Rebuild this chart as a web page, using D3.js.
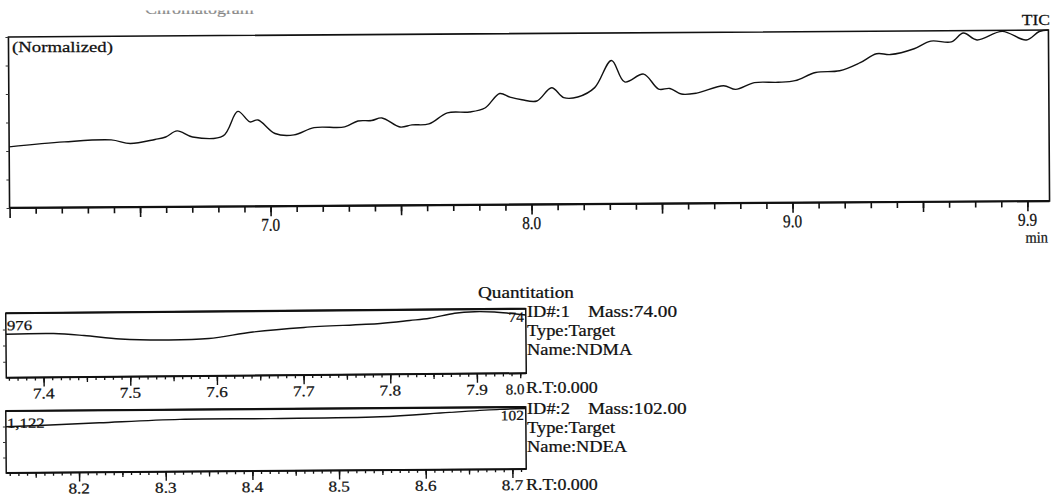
<!DOCTYPE html>
<html>
<head>
<meta charset="utf-8">
<script src="https://cdn.jsdelivr.net/npm/d3@7"></script>
<style>
  html, body { margin: 0; padding: 0; background: #fff; }
  svg { display: block; }
  text { font-family: "Liberation Serif", "DejaVu Serif", serif; fill: #111; stroke: #111; stroke-width: 0.25; }
</style>
</head>
<body>
<svg id="chart" width="1053" height="499"></svg>
<script>
// ---- data ----
const ticTime = [6.0, 6.211, 6.391, 6.464, 6.559, 6.6, 6.644, 6.703, 6.82, 6.877, 6.923, 6.954,
  7.019, 7.092, 7.169, 7.286, 7.337, 7.389, 7.429, 7.498, 7.544, 7.609, 7.68, 7.765, 7.824,
  7.881, 7.92, 7.966, 8.023, 8.08, 8.126, 8.18, 8.245, 8.31, 8.36, 8.433, 8.49, 8.533, 8.577,
  8.636, 8.739, 8.785, 8.857, 8.948, 9.013, 9.092, 9.184, 9.261, 9.326, 9.379, 9.47, 9.534,
  9.613, 9.659, 9.711, 9.808, 9.9, 9.95, 9.985];
const ticIntensity = [35.7, 38.4, 39.4, 37.2, 39.5, 40.9, 44.4, 40.8, 41.3, 55.6, 49.4, 50.5,
  42.5, 41.6, 45.8, 46.1, 49.5, 49.7, 51.2, 45.8, 47.0, 47.5, 53.9, 54.3, 56.6,
  65.0, 62.9, 61.3, 60.5, 68.2, 62.4, 62.7, 68.1, 83.9, 71.3, 75.8, 67.0, 67.3, 64.0,
  64.5, 68.7, 66.5, 70.4, 70.5, 71.4, 76.1, 77.0, 81.5, 86.8, 86.3, 89.6, 94.0,
  93.5, 98.6, 94.5, 99.4, 94.3, 99.2, 100];

const ndmaTime = [7.357, 7.412, 7.447, 7.489, 7.545, 7.591, 7.642, 7.701, 7.789, 7.823, 7.846,
  7.875, 7.898, 7.921, 7.938, 7.957];
const ndmaIntensity = [67.4, 67.9, 64.5, 58.6, 56.3, 58.1, 67.6, 74.0, 79.1, 83.3, 86.5,
  94.0, 96.1, 95.3, 93.2, 90.2];

const ndeaTime = [8.116, 8.167, 8.224, 8.317, 8.421, 8.548, 8.628, 8.686, 8.716];
const ndeaIntensity = [74.5, 76.8, 79.8, 84.4, 84.5, 86.0, 92.3, 96.5, 97.7];

const ticTickValues = [7.0, 8.0, 9.0, 9.9];
const ticTickLabels = ["7.0", "8.0", "9.0", "9.9"];
const ndmaTickValues = [7.4, 7.5, 7.6, 7.7, 7.8, 7.9];
const ndmaTickLabels = ["7.4", "7.5", "7.6", "7.7", "7.8", "7.9"];
const ndmaEndLabel = "8.0";
const ndeaTickValues = [8.2, 8.3, 8.4, 8.5, 8.6, 8.7];
const ndeaTickLabels = ["8.2", "8.3", "8.4", "8.5", "8.6", "8.7"];

const ndmaCorner = ["976", "74"];
const ndeaCorner = ["1,122", "102"];
const ndmaInfo = ["ID#:1", "Mass:74.00", "Type:Target", "Name:NDMA", "R.T:0.000"];
const ndeaInfo = ["ID#:2", "Mass:102.00", "Type:Target", "Name:NDEA", "R.T:0.000"];

// ---- layout ----
const ticBox = { left: 9, right: 1049, top: 33.5, bottom: 204.5, domain: [6.0, 9.985], tilt: -0.38 };
const panels = [
  { left: 6, right: 526, top: 311, bottom: 375.5, domain: [7.357, 7.957], tilt: -0.5 },
  { left: 6, right: 526, top: 409, bottom: 471, domain: [8.116, 8.716], tilt: -0.44 },
];

const svg = d3.select("#chart");

function addText(g, x, y, str, size, opts = {}) {
  const sx = opts.sx || 1;
  return g
    .append("text")
    .attr("transform", `translate(${x},${y}) scale(${sx},1)`)
    .attr("text-anchor", opts.anchor || "start")
    .attr("font-size", size)
    .text(str);
}

function drawTicks(g, scale, values, y, size, width) {
  g.append("g")
    .attr("transform", `translate(0,${y})`)
    .call(d3.axisBottom(scale).tickValues(values).tickSize(size).tickFormat(""))
    .call((a) => a.select(".domain").remove())
    .call((a) => a.selectAll("line").attr("stroke", "#111").attr("stroke-width", width));
}

function drawSideTicks(g, scale, values, x, size) {
  g.append("g")
    .attr("transform", `translate(${x},0)`)
    .call(d3.axisLeft(scale).tickValues(values).tickSize(size).tickFormat(""))
    .call((a) => a.select(".domain").remove())
    .call((a) => a.selectAll("line").attr("stroke", "#333").attr("stroke-width", 1));
}

function drawTrace(g, xs, ys, times, values, width) {
  const line = d3
    .line()
    .x((d) => xs(d[0]))
    .y((d) => ys(d[1]))
    .curve(d3.curveCatmullRom.alpha(0.5));
  g.append("path")
    .datum(d3.zip(times, values))
    .attr("d", line)
    .attr("fill", "none")
    .attr("stroke", "#111")
    .attr("stroke-width", width)
    .attr("stroke-linejoin", "round");
}

function drawBox(g, b, w) {
  g.append("rect")
    .attr("x", b.left)
    .attr("y", b.top)
    .attr("width", b.right - b.left)
    .attr("height", b.bottom - b.top)
    .attr("fill", "none")
    .attr("stroke", "#111")
    .attr("stroke-width", w);
}

// ---- faded title, cut off by the scan edge ----
svg.append("clipPath").attr("id", "titleClip")
  .append("rect").attr("x", 0).attr("y", 10.5).attr("width", 400).attr("height", 12);
addText(svg.append("g").attr("clip-path", "url(#titleClip)").attr("opacity", 0.5),
  145, 14, "Chromatogram", 15, { sx: 1.2 });

// ---- TIC chart ----
const gTop = svg.append("g").attr("transform", `rotate(${ticBox.tilt},530,120)`);
const xTop = d3.scaleLinear().domain(ticBox.domain).range([ticBox.left, ticBox.right]);
const yTop = d3.scaleLinear().domain([0, 100]).range([ticBox.bottom, ticBox.top]);

drawBox(gTop, ticBox, 1.6);
gTop.append("line")
  .attr("x1", ticBox.left).attr("x2", ticBox.right)
  .attr("y1", ticBox.bottom).attr("y2", ticBox.bottom)
  .attr("stroke", "#111").attr("stroke-width", 2.2);

const minorTop = d3.range(61, 100).map((d) => d / 10);
const majorTop = d3.range(60, 100, 5).map((d) => d / 10).concat([9.9]);
drawTicks(gTop, xTop, minorTop, ticBox.bottom, 6, 1.6);
drawTicks(gTop, xTop, majorTop, ticBox.bottom, 10, 1.6);
drawSideTicks(gTop, yTop, d3.range(0, 101, 100 / 6), ticBox.left, 3);

drawTrace(gTop, xTop, yTop, ticTime, ticIntensity, 1.4);

ticTickValues.forEach((v, i) => {
  addText(gTop, xTop(v), 229, ticTickLabels[i], 18, { anchor: "middle", sx: 0.85 });
});
addText(gTop, 1036, 246, "min", 16, { anchor: "middle", sx: 0.9 });
addText(svg, 12, 51.5, "(Normalized)", 15, { sx: 1.25 });
addText(svg, 1050, 25, "TIC", 15, { anchor: "end", sx: 1.17 });

// ---- quantitation panels ----
const panelData = [
  { times: ndmaTime, values: ndmaIntensity, ticks: ndmaTickValues, labels: ndmaTickLabels, corner: ndmaCorner },
  { times: ndeaTime, values: ndeaIntensity, ticks: ndeaTickValues, labels: ndeaTickLabels, corner: ndeaCorner },
];

panels.forEach((p, i) => {
  const d = panelData[i];
  const cy = (p.top + p.bottom) / 2;
  const g = svg.append("g").attr("transform", `rotate(${p.tilt},266,${cy})`);
  const xs = d3.scaleLinear().domain(p.domain).range([p.left, p.right]);
  const ys = d3.scaleLinear().domain([0, 100]).range([p.bottom, p.top]);

  drawBox(g, p, 1.5);
  g.append("line")
    .attr("x1", p.left).attr("x2", p.right)
    .attr("y1", p.bottom).attr("y2", p.bottom)
    .attr("stroke", "#111").attr("stroke-width", 2);
  g.append("line")
    .attr("x1", p.left).attr("x2", p.right)
    .attr("y1", p.top).attr("y2", p.top)
    .attr("stroke", "#111").attr("stroke-width", 2.2);

  const lo = Math.ceil(p.domain[0] * 100);
  const hi = Math.floor(p.domain[1] * 100);
  const minor = d3.range(lo, hi + 1).map((v) => v / 100);
  const mid = minor.filter((v) => Math.round(v * 100) % 5 === 0);
  drawTicks(g, xs, minor, p.bottom, 3, 1.3);
  drawTicks(g, xs, mid, p.bottom, 5, 1.3);
  drawTicks(g, xs, d.ticks, p.bottom, 9, 1.4);
  drawSideTicks(g, ys, [25, 50, 75], p.left, 3);

  drawTrace(g, xs, ys, d.times, d.values, 1.4);

  d.ticks.forEach((v, k) => {
    addText(g, xs(v), p.bottom + 21, d.labels[k], 15, { anchor: "middle", sx: 1.15 });
  });
  if (i === 0) addText(g, 524, p.bottom + 21, ndmaEndLabel, 15, { anchor: "end", sx: 1.0 });

  addText(g, p.left + 1, p.top + 17, d.corner[0], 14, { sx: 1.2 });
  addText(g, p.right - 2, p.top + 13, d.corner[1], 14, { anchor: "end", sx: 1.1 });
});

// ---- right-hand text ----
addText(svg, 478, 298, "Quantitation", 16, { sx: 1.2 });

function drawInfo(info, base) {
  addText(svg, 527, base, info[0], 16, { sx: 1.15 });
  addText(svg, 588, base, info[1], 16, { sx: 1.2 });
  addText(svg, 527, base + 19, info[2], 16, { sx: 1.15 });
  addText(svg, 527, base + 38, info[3], 16, { sx: 1.15 });
}
drawInfo(ndmaInfo, 317);
drawInfo(ndeaInfo, 414);

addText(svg, 526, 393, ndmaInfo[4], 16, { sx: 1.12 });
addText(svg, 526, 490, ndeaInfo[4], 16, { sx: 1.12 });
</script>
</body>
</html>
